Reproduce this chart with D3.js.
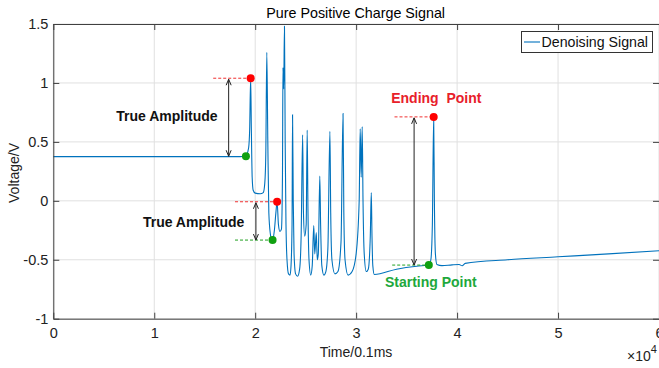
<!DOCTYPE html>
<html>
<head>
<meta charset="utf-8">
<script src="https://cdn.jsdelivr.net/npm/d3@7"></script>
<style>
  body { margin: 0; background: #fff; }
  svg { display: block; font-family: "Liberation Sans", Arial, sans-serif; }
</style>
</head>
<body>
<svg id="chart" width="659" height="368"></svg>
<script>
// signal samples, time in 0.1 ms, voltage in V
const timeVals = [
  0, 10000, 18500, 19000, 19150, 19350, 19450, 19550,
  19620, 19700, 19800, 20000, 20500, 20800, 20950, 21050, 21150,
  21250, 21350, 21500, 21650, 21750, 21900, 22050, 22170,
  22300, 22450, 22600, 22700, 22750, 22820, 22900,
  22970, 23050, 23150, 23300, 23450, 23550, 23650, 23700,
  23770, 23850, 24000, 24200, 24400, 24550, 24700,
  24780, 24900, 25050, 25150, 25230, 25330, 25500, 25650,
  25800, 25900, 26050, 26150, 26250, 26400, 26480, 26600,
  26800, 27000, 27200, 27400, 27480, 27600, 27900, 28200,
  28500, 28700, 28780, 28900, 29200, 29600, 30000, 30300,
  30400, 30500, 30600, 30680, 30800, 31000, 31200, 31400,
  31500, 31570, 31650, 31800, 34000, 36000, 37000, 37200,
  37400, 37550, 37680, 37750, 37850, 38000, 38500, 39500,
  40200, 40500, 40800, 45000, 50000, 55000, 60000
];
const voltVals = [
  0.375, 0.375, 0.375, 0.378, 0.39, 0.45, 0.6, 1.04,
  0.6, 0.2, 0.09, 0.065, 0.06, 0.07, 0.15, 0.4, 1.26,
  0.5, -0.1, -0.28, -0.33, -0.325, -0.25, -0.1, -0.008,
  -0.2, -0.26, -0.24, 0.2, 1.13, 0.95, 1.48,
  0.5, -0.2, -0.5, -0.62, -0.63, -0.55, -0.2, 0.73,
  0.0, -0.45, -0.62, -0.64, -0.58, -0.3, 0.56,
  -0.1, -0.3, -0.2, 0.6, -0.1, -0.5, -0.63, -0.55,
  -0.21, -0.45, -0.27, -0.5, -0.45, 0.21, -0.2, -0.55,
  -0.63, -0.6, -0.4, 0.59, -0.1, -0.5, -0.62, -0.6,
  -0.35, 0.74, -0.1, -0.5, -0.63, -0.6, -0.45, 0.0,
  0.61, 0.2, 0.63, 0.0, -0.45, -0.6, -0.58, -0.3,
  0.07, -0.3, -0.55, -0.625, -0.58, -0.555, -0.547, -0.545,
  -0.5, -0.2, 0.712, 0.0, -0.45, -0.54, -0.55, -0.543,
  -0.54, -0.551, -0.531, -0.5, -0.475, -0.45, -0.424
];

const xTicks = [0, 10000, 20000, 30000, 40000, 50000, 60000];
const yTicks = [-1, -0.5, 0, 0.5, 1, 1.5];

// annotation points
const peakTimes = [19550, 22170, 37680];
const peakVolts = [1.04, -0.008, 0.712];
const baseTimes = [19080, 21720, 37200];
const baseVolts = [0.378, -0.333, -0.545];
const redGuideFrom = [15840, 18000, 33800];
const greenGuideFrom = [null, 18000, 33570];
const arrowTimes = [17370, 20070, 35740];

const labelTexts = ["True Amplitude", "True Amplitude", "Ending  Point", "Starting Point"];
const labelTimes = [11260, 13900, 37940, 37400];
const labelVolts = [0.68, -0.22, 0.826, -0.729];
const labelColors = ["#111", "#111", "#e8202a", "#1ea83c"];

const svg = d3.select("#chart");
const mLeft = 53.3, mRight = 659, mTop = 24, mBottom = 318.7;

const x = d3.scaleLinear().domain([0, 60000]).range([mLeft, mRight]);
const y = d3.scaleLinear().domain([-1, 1.5]).range([mBottom, mTop]);

// grid
svg.append("g").selectAll("line").data(xTicks).join("line")
  .attr("x1", d => x(d)).attr("x2", d => x(d))
  .attr("y1", mTop).attr("y2", mBottom)
  .attr("stroke", "#e0e0e0");
svg.append("g").selectAll("line").data(yTicks).join("line")
  .attr("x1", mLeft).attr("x2", mRight)
  .attr("y1", d => y(d)).attr("y2", d => y(d))
  .attr("stroke", "#e0e0e0");

// signal
const pts = timeVals.map((t, i) => [t, voltVals[i]]);
svg.append("path")
  .datum(pts)
  .attr("fill", "none")
  .attr("stroke", "#0072bd")
  .attr("stroke-width", 1.1)
  .attr("d", d3.line().x(d => x(d[0])).y(d => y(d[1])).curve(d3.curveMonotoneX));

// axes, ticks inward on all four sides
const ax = "#404040";
svg.append("g").attr("transform", `translate(0,${mBottom})`)
  .call(d3.axisBottom(x).tickValues(xTicks).tickSizeInner(-6).tickSizeOuter(0)
    .tickPadding(9).tickFormat(d => d / 10000));
svg.append("g").attr("transform", `translate(0,${mTop})`)
  .call(d3.axisTop(x).tickValues(xTicks).tickSizeInner(-6).tickSizeOuter(0).tickFormat(""));
svg.append("g").attr("transform", `translate(${mLeft},0)`)
  .call(d3.axisLeft(y).tickValues(yTicks).tickSizeInner(-6).tickSizeOuter(0)
    .tickPadding(5).tickFormat(d => String(d)));
svg.append("g").attr("transform", `translate(${mRight},0)`)
  .call(d3.axisRight(y).tickValues(yTicks).tickSizeInner(-6).tickSizeOuter(0).tickFormat(""));
svg.selectAll(".domain, .tick line").attr("stroke", ax);
svg.selectAll(".tick text").attr("fill", "#222").style("font-size", "14.5px")
  .style("font-family", "Liberation Sans, Arial, sans-serif");

// titles
svg.append("text").attr("x", (mLeft + mRight) / 2 - 0.5).attr("y", 17.5)
  .attr("text-anchor", "middle").style("font-size", "14.3px").text("Pure Positive Charge Signal");
svg.append("text").attr("x", 356).attr("y", 357)
  .attr("text-anchor", "middle").style("font-size", "14px").attr("fill", "#222").text("Time/0.1ms");
svg.append("text").attr("transform", "translate(18.5,173) rotate(-90)")
  .attr("text-anchor", "middle").style("font-size", "14px").attr("fill", "#222").text("Voltage/V");
const ex = svg.append("text").attr("x", 627).attr("y", 361).style("font-size", "14px").attr("fill", "#222");
ex.append("tspan").text("\u00d710");
ex.append("tspan").attr("dy", -8).style("font-size", "11px").text("4");

// guides
const guides = svg.append("g");
peakTimes.forEach((t, i) => {
  guides.append("line")
    .attr("x1", x(redGuideFrom[i])).attr("x2", x(t))
    .attr("y1", y(peakVolts[i])).attr("y2", y(peakVolts[i]))
    .attr("stroke", "#f03030").attr("stroke-dasharray", "3,2");
  if (greenGuideFrom[i] !== null) {
    guides.append("line")
      .attr("x1", x(greenGuideFrom[i])).attr("x2", x(baseTimes[i]))
      .attr("y1", y(baseVolts[i])).attr("y2", y(baseVolts[i]))
      .attr("stroke", "#20a020").attr("stroke-dasharray", "3,2");
  }
});

// double arrows
arrowTimes.forEach((t, i) => {
  const ax0 = x(t), yTop = y(peakVolts[i]) + 1, yBot = y(baseVolts[i]);
  const g = svg.append("g").attr("stroke", "#222").attr("fill", "none").attr("stroke-width", 1);
  g.append("line").attr("x1", ax0).attr("x2", ax0).attr("y1", yTop).attr("y2", yBot);
  g.append("path").attr("d", `M${ax0 - 2.5},${yTop + 6} L${ax0},${yTop} L${ax0 + 2.5},${yTop + 6}`);
  g.append("path").attr("d", `M${ax0 - 2.5},${yBot - 6} L${ax0},${yBot} L${ax0 + 2.5},${yBot - 6}`);
});

// dots
svg.append("g").selectAll("circle").data(peakTimes).join("circle")
  .attr("cx", d => x(d)).attr("cy", (d, i) => y(peakVolts[i])).attr("r", 4)
  .attr("fill", "#ff0000");
svg.append("g").selectAll("circle").data(baseTimes).join("circle")
  .attr("cx", d => x(d)).attr("cy", (d, i) => y(baseVolts[i])).attr("r", 4)
  .attr("fill", "#10a010");

// labels
svg.append("g").selectAll("text").data(labelTexts).join("text")
  .attr("x", (d, i) => x(labelTimes[i])).attr("y", (d, i) => y(labelVolts[i]))
  .attr("text-anchor", "middle")
  .style("font-size", "14px").style("font-weight", "bold").style("white-space", "pre")
  .attr("fill", (d, i) => labelColors[i])
  .text(d => d);

// legend
const lg = svg.append("g");
lg.append("rect").attr("x", 521.5).attr("y", 31.5).attr("width", 131).attr("height", 21)
  .attr("fill", "#fff").attr("stroke", "#333");
lg.append("line").attr("x1", 524).attr("x2", 540).attr("y1", 42).attr("y2", 42)
  .attr("stroke", "#0072bd").attr("stroke-width", 1.1);
lg.append("text").attr("x", 541.5).attr("y", 47).style("font-size", "14.2px").attr("fill", "#111")
  .text("Denoising Signal");
</script>
</body>
</html>
